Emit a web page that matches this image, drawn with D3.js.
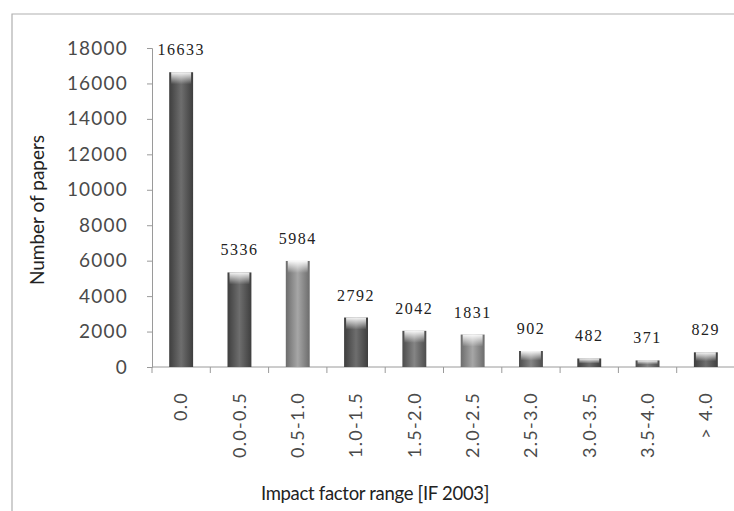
<!DOCTYPE html>
<html>
<head>
<meta charset="utf-8">
<script src="https://cdn.jsdelivr.net/npm/d3@7"></script>
<style>
  html, body { margin: 0; padding: 0; background: #fff; }
  svg { display: block; }
</style>
</head>
<body>
<script>
// Papers per impact-factor range (IF 2003)
const categories = ["0.0", "0.0-0.5", "0.5-1.0", "1.0-1.5", "1.5-2.0", "2.0-2.5", "2.5-3.0", "3.0-3.5", "3.5-4.0", "> 4.0"];
const papers = [16633, 5336, 5984, 2792, 2042, 1831, 902, 482, 371, 829];
const yTicks = [0, 2000, 4000, 6000, 8000, 10000, 12000, 14000, 16000, 18000];

// bar shading (print-style grey tones)
const tones = ["dark", "dark", "light", "dark", "mid", "light", "mid", "dark", "mid", "dark"];

const W = 734, H = 511;
const svg = d3.select("body").append("svg").attr("width", W).attr("height", H);

const defs = svg.append("defs");
const toneStops = {
  dark:  ["#3e3e3e", "#6e6e6e", "#3e3e3e"],
  mid:   ["#4c4c4c", "#858585", "#4c4c4c"],
  light: ["#6c6c6c", "#a6a6a6", "#6c6c6c"]
};
Object.entries(toneStops).forEach(([k, s]) => {
  const g = defs.append("linearGradient").attr("id", "g-" + k)
    .attr("x1", "0").attr("x2", "1").attr("y1", "0").attr("y2", "0");
  g.append("stop").attr("offset", "0%").attr("stop-color", s[0]);
  g.append("stop").attr("offset", "50%").attr("stop-color", s[1]);
  g.append("stop").attr("offset", "100%").attr("stop-color", s[2]);
});
const cap = defs.append("linearGradient").attr("id", "cap")
  .attr("x1", "0").attr("x2", "0").attr("y1", "0").attr("y2", "1");
cap.append("stop").attr("offset", "0%").attr("stop-color", "#fff").attr("stop-opacity", 0.95);
cap.append("stop").attr("offset", "100%").attr("stop-color", "#fff").attr("stop-opacity", 0);

// frame
svg.append("path")
  .attr("d", `M12,${H} L12,14 L${W},14`)
  .attr("fill", "none").attr("stroke", "#b0b0b0").attr("stroke-width", 1.2);

const plot = { left: 152, right: 735, top: 48, bottom: 367 };

const x = d3.scaleBand().domain(categories).range([plot.left, plot.right]).paddingInner(0.59).paddingOuter(0.295);
const y = d3.scaleLinear().domain([0, 18000]).range([plot.bottom, plot.top]);

// y axis
const yAxis = svg.append("g").attr("transform", `translate(${plot.left},0)`)
  .call(d3.axisLeft(y).tickValues(yTicks).tickSize(5).tickPadding(19).tickFormat(d3.format("d")));
yAxis.select(".domain").attr("stroke", "#9a9a9a");
yAxis.selectAll(".tick line").attr("stroke", "#9a9a9a");
yAxis.selectAll("text")
  .attr("font-family", "Lato, 'Open Sans', sans-serif")
  .attr("font-size", 19).attr("fill", "#4a4a4a").attr("letter-spacing", 1.2);

// x axis: ticks on band boundaries
const xg = svg.append("g").attr("transform", `translate(0,${plot.bottom})`);
xg.append("line").attr("x1", plot.left).attr("x2", W).attr("stroke", "#9a9a9a");
const step = x.step();
xg.selectAll("line.tk").data(d3.range(categories.length + 1)).join("line")
  .attr("class", "tk")
  .attr("x1", i => plot.left + i * step).attr("x2", i => plot.left + i * step)
  .attr("y1", 0).attr("y2", 6).attr("stroke", "#9a9a9a");
xg.selectAll("text").data(categories).join("text")
  .attr("transform", d => `translate(${x(d) + x.bandwidth() / 2},25) rotate(-90)`)
  .attr("text-anchor", "end").attr("dy", "0.35em")
  .attr("font-family", "Lato, 'Open Sans', sans-serif")
  .attr("font-size", 18).attr("fill", "#4a4a4a").attr("letter-spacing", 1.3)
  .text(d => d);

// bars
const bars = svg.append("g");
bars.selectAll("rect.bar").data(papers).join("rect")
  .attr("class", "bar")
  .attr("x", (d, i) => x(categories[i]))
  .attr("y", d => y(d))
  .attr("width", x.bandwidth())
  .attr("height", d => plot.bottom - y(d))
  .attr("fill", (d, i) => `url(#g-${tones[i]})`);
bars.selectAll("rect.cap").data(papers).join("rect")
  .attr("class", "cap")
  .attr("x", (d, i) => x(categories[i]) + 2)
  .attr("y", d => y(d))
  .attr("width", x.bandwidth() - 4)
  .attr("height", d => Math.min(12, (plot.bottom - y(d)) * 0.6))
  .attr("fill", "url(#cap)");

// value labels
svg.append("g").selectAll("text").data(papers).join("text")
  .attr("x", (d, i) => x(categories[i]) + x.bandwidth() / 2)
  .attr("y", d => y(d) - 17)
  .attr("text-anchor", "middle")
  .attr("font-family", "'Liberation Serif', 'DejaVu Serif', serif")
  .attr("font-size", 16).attr("fill", "#222").attr("letter-spacing", 1.5)
  .text(d => d);

// axis titles
svg.append("text")
  .attr("transform", "translate(44,210) rotate(-90)")
  .attr("text-anchor", "middle")
  .attr("font-family", "Lato, 'Open Sans', sans-serif")
  .attr("font-size", 19).attr("fill", "#222")
  .text("Number of papers");
svg.append("text")
  .attr("x", 375).attr("y", 500)
  .attr("text-anchor", "middle")
  .attr("font-family", "Lato, 'Open Sans', sans-serif")
  .attr("font-size", 18.5).attr("fill", "#222").attr("letter-spacing", -0.3)
  .text("Impact factor range [IF 2003]");
</script>
</body>
</html>
